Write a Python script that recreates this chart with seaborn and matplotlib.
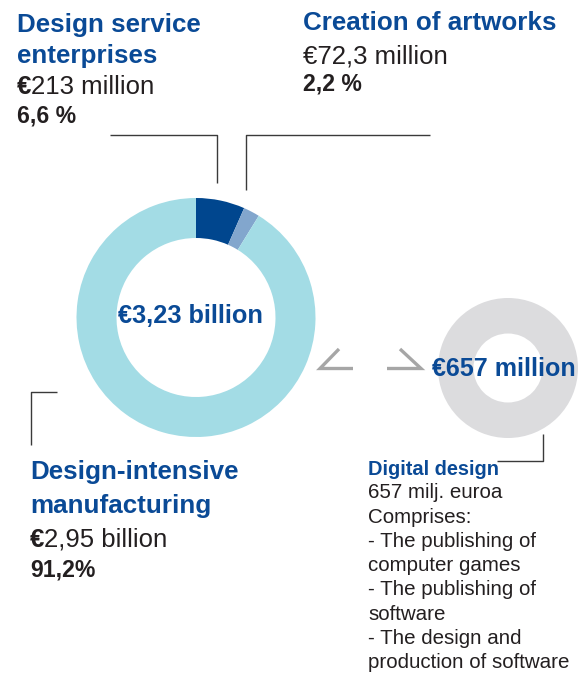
import matplotlib
matplotlib.use("Agg")
import matplotlib.pyplot as plt
import seaborn as sns

# --- data -------------------------------------------------------------
segments = ["Design service\nenterprises", "Creation of artworks", "Design-intensive\nmanufacturing"]
shares = [6.6, 2.2, 91.2]
amount_prefix = ["€", "", "€"]          # euro sign set in bold for some amounts
amount_text = ["213 million", "€72,3 million", "2,95 billion"]
share_labels = ["6,6 %", "2,2 %", "91,2%"]
total_label = "€3,23 billion"

digital_share = [100.0]
digital_label = "€657 million"
digital_title = "Digital design"
digital_lines = ["657 milj. euroa", "Comprises:", "- The publishing of", "computer games",
                 "- The publishing of", "software", "- The design and",
                 "production of software"]

# --- style ------------------------------------------------------------
sns.set_theme(style="white")
plt.rcParams["font.family"] = ["Liberation Sans", "DejaVu Sans"]

seg_colors = ["#00468e", "#82a6cd", "#a3dce5"]
digital_color = "#dcdcde"
blue = "#0a4a96"
ink = "#231f20"
line_col = "#3a3a3a"
chev_col = "#a6a6a6"

W, H = 580, 673
fig = plt.figure(figsize=(W / 100, H / 100), dpi=100)
ax = fig.add_axes([0, 0, 1, 1])

# main donut (y axis is inverted, so data angle -90 points up and
# counter-clockwise in data space reads clockwise on screen)
ax.pie(shares, colors=seg_colors, startangle=-90, counterclock=True,
       center=(196, 317.5), radius=119.5,
       wedgeprops=dict(width=40, linewidth=0))

# digital design donut
ax.pie(digital_share, colors=[digital_color], startangle=-90,
       center=(508, 368), radius=70,
       wedgeprops=dict(width=35.5, linewidth=0))

ax.set_xlim(0, W)
ax.set_ylim(H, 0)
ax.set_aspect("equal")
ax.axis("off")

# leader lines
lw = 1.0
ax.plot([110, 216.5, 216.5], [135, 135, 183], color=line_col, lw=lw, solid_capstyle="butt")
ax.plot([246, 246, 430], [190, 135, 135], color=line_col, lw=lw, solid_capstyle="butt")
ax.plot([57, 30.5, 30.5], [392, 392, 445], color=line_col, lw=lw, solid_capstyle="butt")
ax.plot([497, 543, 543], [461, 461, 434], color=line_col, lw=lw, solid_capstyle="butt")

# chevrons between the two donuts
ax.plot([339, 320, 353], [349, 368.5, 368.5], color=chev_col, lw=2.4,
        solid_joinstyle="miter", solid_capstyle="butt")
ax.plot([387, 421, 400], [368.5, 368.5, 349], color=chev_col, lw=2.4,
        solid_joinstyle="miter", solid_capstyle="butt")

head_fs = 18.7
amt_fs = 18.5
pct_fs = 16.6

renderer = fig.canvas.get_renderer()


def amount(x, y, prefix, rest):
    xx = x
    if prefix:
        t = ax.text(xx, y, prefix, fontsize=amt_fs, fontweight="bold", color=ink,
                    va="baseline", ha="left")
        bb = t.get_window_extent(renderer)
        xx = x + bb.width
    ax.text(xx, y, rest, fontsize=amt_fs, color=ink, va="baseline", ha="left")


# Design service enterprises
ax.text(17, 31.7, "Design service", fontsize=head_fs, fontweight="bold", color=blue, va="baseline")
ax.text(17, 63, "enterprises", fontsize=head_fs, fontweight="bold", color=blue, va="baseline")
amount(17, 94, amount_prefix[0], amount_text[0])
ax.text(17, 122.7, share_labels[0], fontsize=pct_fs, fontweight="bold", color=ink, va="baseline")

# Creation of artworks
ax.text(303, 30, segments[1], fontsize=head_fs, fontweight="bold", color=blue, va="baseline")
amount(303, 63.3, amount_prefix[1], amount_text[1])
ax.text(303, 90.7, share_labels[1], fontsize=pct_fs, fontweight="bold", color=ink, va="baseline")

# Design-intensive manufacturing
ax.text(30, 479, "Design-intensive", fontsize=head_fs, fontweight="bold", color=blue, va="baseline")
ax.text(30, 513, "manufacturing", fontsize=head_fs, fontweight="bold", color=blue, va="baseline")
amount(30, 546.7, amount_prefix[2], amount_text[2])
ax.text(30, 576.7, share_labels[2], fontsize=pct_fs, fontweight="bold", color=ink, va="baseline")

# donut totals
ax.text(118, 323.3, total_label, fontsize=18.3, fontweight="bold", color=blue, va="baseline")
ax.text(432.5, 376.5, digital_label, fontsize=18.1, fontweight="bold", color=blue, va="baseline")

# digital design description
ax.text(368, 475, digital_title, fontsize=14.4, fontweight="bold", color=blue, va="baseline")
for i, line in enumerate(digital_lines):
    ax.text(368, 498.5 + i * 24.2, line, fontsize=14.8, color=ink, va="baseline")

fig.savefig("out.png", dpi=100, facecolor="white")
